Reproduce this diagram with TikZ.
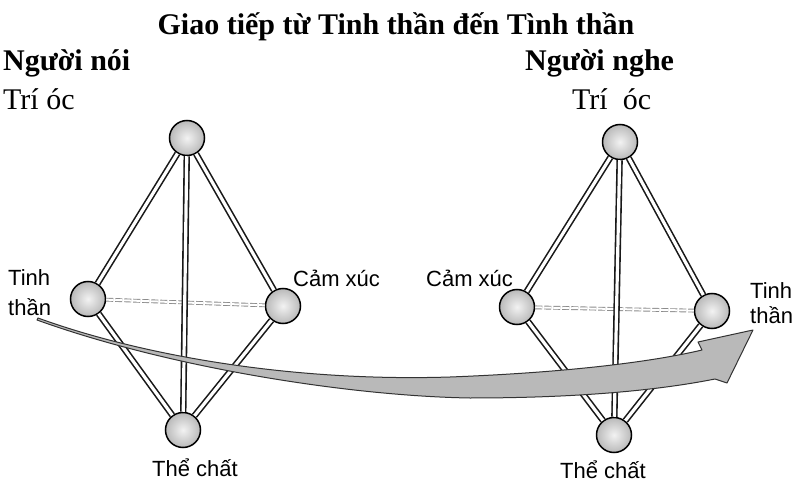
\documentclass[tikz,border=0pt]{standalone}
\usepackage{fontspec}
\setmainfont{Liberation Serif}
\setsansfont{Liberation Sans}
\usetikzlibrary{positioning}

\begin{document}
\begin{tikzpicture}[
    x=1pt, y=-1pt,
    ball/.style={
        circle,
        draw=black,
        line width=1.5pt,
        inner color=gray!10,
        outer color=gray!55,
        minimum size=35pt,
        inner sep=0pt
    },
    rod/.style={
        draw=black!90,
        line width=1.6pt,
        double=white,
        double distance=3.2pt
    },
    back rod/.style={
        draw=black!45,
        line width=0.9pt,
        double=white,
        double distance=2pt,
        dash pattern=on 7pt off 2pt
    },
    part label/.style={
        font=\sffamily\fontsize{22}{#1}\selectfont,
        inner sep=0pt,
        align=left
    },
    part label/.default=26,
    head text/.style={
        font=\bfseries\fontsize{30}{36}\selectfont,
        inner sep=0pt
    },
    mind text/.style={
        font=\fontsize{30}{36}\selectfont,
        inner sep=0pt,
        anchor=base west
    },
    flow/.style={
        fill=gray!55,
        draw=black!80,
        line width=1pt,
        line join=round
    }
]
\useasboundingbox (0,0) rectangle (796,484);

% Headings
\node[head text, anchor=base] (title) at (396,35) {Giao tiếp từ Tinh thần đến Tình thần};
\node[head text, anchor=base west] (speaker) at (3,71) {Người nói};
\node[head text, anchor=base west] (listener) at (525,71) {Người nghe};
\node[mind text] (amind) at (3,110) {Trí óc};
\node[mind text] (bmind) at (572,110) {Trí~~óc};

% Speaker balls
\node[ball] (a1) at (187,138) {};
\node[ball] (a2) at (88,299) {};
\node[ball] (a3) at (283,306) {};
\node[ball] (a4) at (183,430) {};

% Listener balls
\node[ball] (b1) at (620,142) {};
\node[ball] (b2) at (517,307) {};
\node[ball] (b3) at (712,311) {};
\node[ball] (b4) at (614,435) {};

% Rods
\draw[back rod] (a2) -- (a3);
\draw[rod] (a1) -- (a2);
\draw[rod] (a1) -- (a3);
\draw[rod] (a1) -- (a4);
\draw[rod] (a2) -- (a4);
\draw[rod] (a3) -- (a4);

\draw[back rod] (b2) -- (b3);
\draw[rod] (b1) -- (b2);
\draw[rod] (b1) -- (b3);
\draw[rod] (b1) -- (b4);
\draw[rod] (b2) -- (b4);
\draw[rod] (b3) -- (b4);

% Part labels
\node[part label=30, anchor=north west] (aspirit) at (8,269) {Tinh\\thần};
\node[part label, anchor=base west] (afeel) at (293,286) {Cảm xúc};
\node[part label, anchor=base west] (abody) at (152,476) {Thể chất};
\node[part label, anchor=base west] (bfeel) at (426,286) {Cảm xúc};
\node[part label=25, anchor=north west] (bspirit) at (750,282) {Tinh\\thần};
\node[part label, anchor=base west] (bbody) at (560,478) {Thể chất};

% Spirit to spirit arrow
\coordinate (tail) at (38,318);
\coordinate (tip) at (753,330);
\draw[flow] (tail) .. controls (140,355) and (290,382) .. (450,377)
    .. controls (580,372) and (660,360) .. (702,350) -- (698,342) -- (tip)
    -- (727,383) -- (715,379)
    .. controls (660,390) and (580,398) .. (470,398)
    .. controls (350,396) and (170,368) .. (37,320) -- cycle;

\end{tikzpicture}
\end{document}
